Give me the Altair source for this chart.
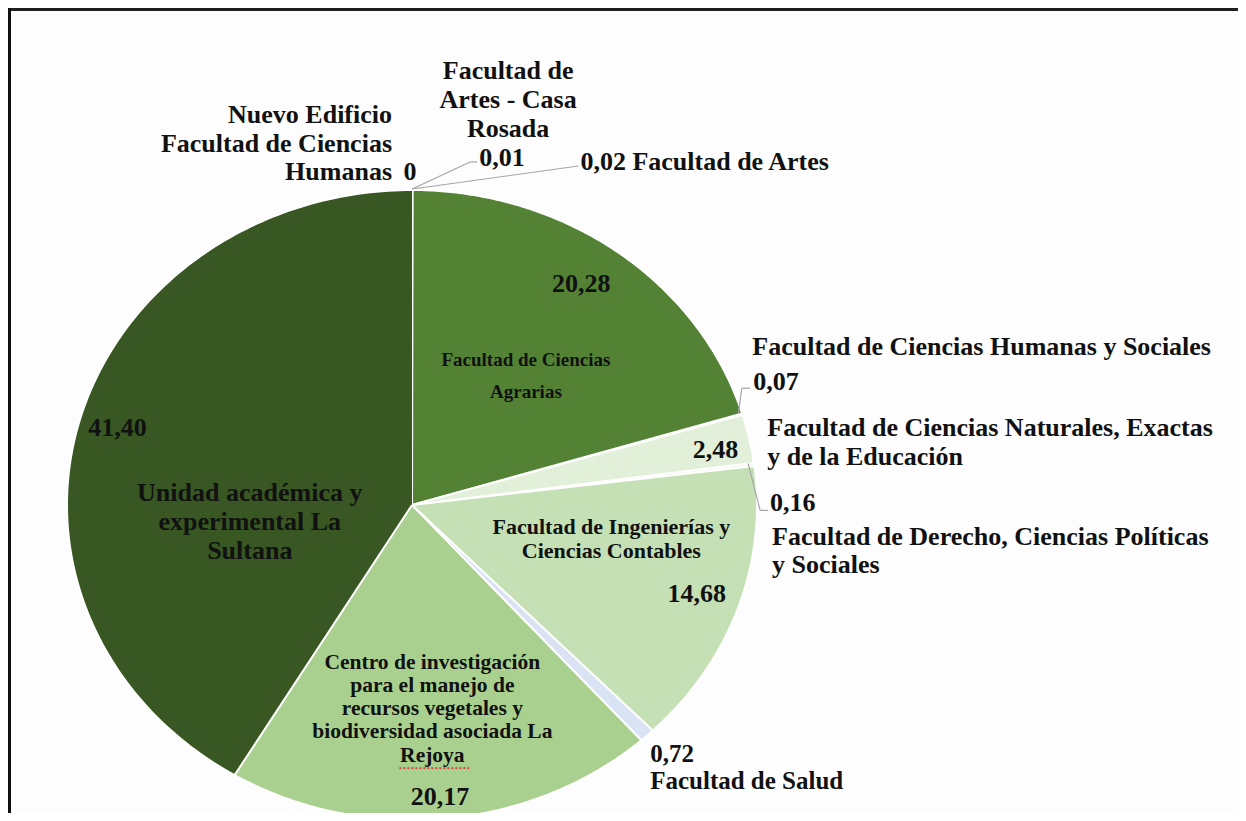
import altair as alt

# ---------------- data ----------------
categories = [
    "Nuevo Edificio Facultad de Ciencias Humanas",
    "Facultad de Artes - Casa Rosada",
    "Facultad de Artes",
    "Facultad de Ciencias Agrarias",
    "Facultad de Ciencias Humanas y Sociales",
    "Facultad de Ciencias Naturales, Exactas y de la Educación",
    "Facultad de Derecho, Ciencias Políticas y Sociales",
    "Facultad de Ingenierías y Ciencias Contables",
    "Facultad de Salud",
    "Centro de investigación para el manejo de recursos vegetales y biodiversidad asociada La Rejoya",
    "Unidad académica y experimental La Sultana",
]
values = [0, 0.01, 0.02, 20.28, 0.07, 2.48, 0.16, 14.68, 0.72, 20.17, 41.40]
value_labels = ["0", "0,01", "0,02", "20,28", "0,07", "2,48", "0,16", "14,68", "0,72", "20,17", "41,40"]
name_lines = [
    ["Nuevo Edificio", "Facultad de Ciencias", "Humanas"],
    ["Facultad de", "Artes - Casa", "Rosada"],
    ["Facultad de Artes"],
    ["Facultad de Ciencias", "Agrarias"],
    ["Facultad de Ciencias Humanas y Sociales"],
    ["Facultad de Ciencias Naturales, Exactas", "y de la Educación"],
    ["Facultad de Derecho, Ciencias Políticas", "y Sociales"],
    ["Facultad de Ingenierías y", "Ciencias Contables"],
    ["Facultad de Salud"],
    ["Centro de investigación", "para el manejo de", "recursos vegetales y", "biodiversidad asociada La", "Rejoya"],
    ["Unidad académica y", "experimental La", "Sultana"],
]

# ---------------- styles / layout ----------------
colors = ["#385723", "#9bbb84", "#8fb573", "#548235", "#eef6e9", "#e2f0d9",
          "#f1f7ed", "#c5e0b4", "#dae3f3", "#a9d08e", "#385723"]

FONT = "Liberation Serif"
# (slice index, part, radius fraction, dx, dy (block centre), align, font size, line height)
label_layout = [
    (0, "name", 1.0, -20, -46.5, "right", 26, 28.5),
    (0, "value", 1.0, -2, -18, "center", 26, None),
    (1, "name", 1.0, 96, -90.5, "center", 26, 29),
    (1, "value", 1.0, 90, -32, "center", 26, None),
    (2, "both", 1.0, 168, -28, "left", 26, None),
    (3, "name", 0.5, 11, -3, "center", 19, 32),
    (3, "value", 0.75, 15, -31, "center", 26, None),
    (4, "name", 1.0, 10, -67, "left", 26, None),
    (4, "value", 1.0, 11, -32, "left", 26, None),
    (5, "value", 0.9, 0, 5, "center", 26, None),
    (5, "name", 1.0, 18, 4, "left", 26, 29),
    (6, "value", 1.0, 16, 39, "left", 26, None),
    (6, "name", 1.0, 18, 87, "left", 26, 28),
    (7, "name", 0.6, 4, -28, "center", 22, 24),
    (7, "value", 0.85, 8, 0, "center", 26, None),
    (8, "stack", 1.0, 3, 32.5, "left", 25, 27),
    (9, "name", 0.6, 1, 16, "center", 21.5, 23.3),
    (9, "value", 0.93, -2, 0, "center", 26, None),
    (10, "name", 0.5, 4, 59, "center", 26, 29),
    (10, "value", 0.85, -12, -6, "center", 26, None),
]
# leader segments: (slice index, x0, y0, x1, y1) pixel offsets from slice edge at mid-angle
leader_layout = [
    (1, 0, -1, 58, -28), (1, 58, -28, 65, -28),
    (2, 0, -1, 166, -24),
    (4, -4, -1, -0.6, -26), (4, -0.6, -26, 7.7, -26),
    (6, -6, -1, 6, 46), (6, 6, 46, 14, 46),
]

W, H = 1230, 805
xs = alt.Scale(domain=[-1, 1], range=[59, 749], zero=False, nice=False)
ys = alt.Scale(domain=[-1, 1], range=[812, 182], zero=False, nice=False)

rows = [
    {"order": i, "category": c, "value": v, "vlabel": vl, "lines": nl}
    for i, (c, v, vl, nl) in enumerate(zip(categories, values, value_labels, name_lines))
]
src = alt.Data(values=rows)


def base():
    return (
        alt.Chart(src)
        .transform_window(cum="sum(value)", sort=[alt.SortField("order")], frame=[None, 0])
        .transform_joinaggregate(total="sum(value)")
        .transform_calculate(start="(datum.cum - datum.value) / datum.total")
        .transform_calculate(end="datum.cum / datum.total")
        .transform_calculate(mid="(datum.start + datum.end) / 2")
    )


N = 150
slices = (
    base()
    .transform_calculate(idx=f"sequence(-1, {N + 1})")
    .transform_flatten(["idx"])
    .transform_calculate(ang=f"2 * PI * (datum.start + (datum.end - datum.start) * max(datum.idx, 0) / {N})")
    .transform_calculate(px="datum.idx < 0 ? 0 : sin(datum.ang)")
    .transform_calculate(py="datum.idx < 0 ? 0 : cos(datum.ang)")
    .mark_line(filled=True, stroke="white", strokeWidth=2, strokeJoin="round")
    .encode(
        x=alt.X("px:Q", scale=xs, axis=None),
        y=alt.Y("py:Q", scale=ys, axis=None),
        color=alt.Color("category:N", scale=alt.Scale(domain=categories, range=colors), legend=None),
        detail="category:N",
        order=alt.Order("idx:Q"),
    )
)

layers = [slices]

for (i, x0, y0, x1, y1) in leader_layout:
    layers.append(
        base()
        .transform_filter(f"datum.order == {i}")
        .transform_calculate(lx="sin(2 * PI * datum.mid)")
        .transform_calculate(ly="cos(2 * PI * datum.mid)")
        .mark_rule(color="#a6a6a6", strokeWidth=1.2, xOffset=x0, yOffset=y0, x2Offset=x1, y2Offset=y1)
        .encode(x=alt.X("lx:Q", scale=xs, axis=None), y=alt.Y("ly:Q", scale=ys, axis=None),
                x2=alt.X2("lx:Q"), y2=alt.Y2("ly:Q"))
    )

for (i, part, rf, dx, dy, align, size, lh) in label_layout:
    n_lines = 1
    if part == "name":
        expr = "datum.lines"
        n_lines = len(name_lines[i])
    elif part == "value":
        expr = "datum.vlabel"
    elif part == "stack":
        expr = "[datum.vlabel, join(datum.lines, ' ')]"
        n_lines = 2
    else:
        expr = "datum.vlabel + ' ' + join(datum.lines, ' ')"
    # the first line sits on the anchor; shift so the block is centred
    dy_first = dy - (n_lines - 1) * (lh or 0) / 2
    mk = dict(align=align, baseline="middle", dx=dx, dy=dy_first, font=FONT, fontSize=size,
              fontWeight="bold", color="#111111")
    if lh:
        mk["lineHeight"] = lh
    layers.append(
        base()
        .transform_filter(f"datum.order == {i}")
        .transform_calculate(lx=f"sin(2 * PI * datum.mid) * {rf}")
        .transform_calculate(ly=f"cos(2 * PI * datum.mid) * {rf}")
        .transform_calculate(txt=expr)
        .mark_text(**mk)
        .encode(x=alt.X("lx:Q", scale=xs, axis=None), y=alt.Y("ly:Q", scale=ys, axis=None),
                text=alt.Text("txt:N"))
    )

# spell-check underline under "Rejoya" (dotted red)
layers.append(
    base()
    .transform_filter("datum.order == 9")
    .transform_calculate(lx="sin(2 * PI * datum.mid) * 0.6")
    .transform_calculate(ly="cos(2 * PI * datum.mid) * 0.6")
    .mark_rule(color="#e03a3a", strokeWidth=1.6, strokeDash=[2, 2],
               xOffset=-32, x2Offset=40, yOffset=75, y2Offset=75)
    .encode(x=alt.X("lx:Q", scale=xs, axis=None), y=alt.Y("ly:Q", scale=ys, axis=None),
            x2=alt.X2("lx:Q"), y2=alt.Y2("ly:Q"))
)

# frame lines (top and left) of the original image border
layers.append(
    alt.Chart(src).mark_rule(color="#1e1e1e", strokeWidth=2.5)
    .encode(x=alt.value(0), x2=alt.value(W), y=alt.value(1), y2=alt.value(1))
)
layers.append(
    alt.Chart(src).mark_rule(color="#111111", strokeWidth=2.5)
    .encode(x=alt.value(1.7), x2=alt.value(1.7), y=alt.value(0), y2=alt.value(H))
)

chart = (
    alt.layer(*layers)
    .properties(width=W, height=H, autosize=alt.AutoSizeParams(type="none"), padding=0,
                background="#fdfdfd")
    .configure_view(stroke=None)
)

chart.save("out.html", embed_options={"renderer": "svg", "actions": False})
